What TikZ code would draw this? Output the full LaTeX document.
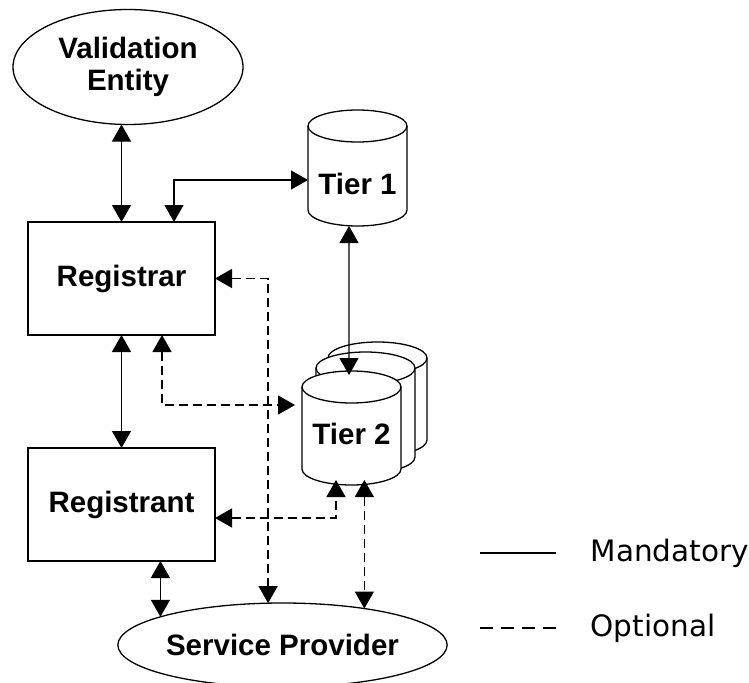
\documentclass[tikz,border=0pt]{standalone}
\usepackage{fontspec}
\setmainfont{Liberation Sans}
\newfontfamily\legendfont{DejaVu Sans}
\usetikzlibrary{shapes.geometric,arrows.meta}

% drum: name, centre, height, label, label shift
\newcommand\drum[5]{%
\node[db,minimum height=#3] (#1) at (#2) {};
\filldraw[fill=white] ([yshift=-16bp]#1.north west) arc[start angle=180,end angle=0,x radius=49.5bp,y radius=16bp]
  -- ([yshift=16bp]#1.south east) arc[start angle=0,end angle=-180,x radius=49.5bp,y radius=16bp] -- cycle;
\draw ([yshift=-16bp]#1.north west) arc[start angle=180,end angle=360,x radius=49.5bp,y radius=16bp];
\node[lbl] (#1txt) at ([yshift=#5]#1.center) {#4};}

\begin{document}
\begin{tikzpicture}[x=1bp,y=-1bp,line width=1.3bp,
  lbl/.style={font=\bfseries\fontsize{29.5bp}{32bp}\selectfont},
  box/.style={lbl,draw,rectangle,minimum width=187bp,minimum height=113bp,inner sep=0pt,outer sep=0pt},
  oval/.style={lbl,draw,ellipse,align=center,inner sep=0pt,outer sep=0pt},
  db/.style={rectangle,minimum width=99bp,inner sep=0pt,outer sep=0pt},
  tip/.tip={Triangle[length=17bp,width=19bp]},
  both/.style={tip-tip},
  opt/.style={both,dash pattern=on 9bp off 5bp},
  legend/.style={font=\legendfont\fontsize{29.5bp}{36bp}\selectfont,anchor=west,inner sep=0pt}]
\useasboundingbox (0,0) rectangle (749,683);
\node[oval,minimum width=230bp,minimum height=115bp] (ve) at (128,67) {Validation\\Entity};
\node[box] (reg) at (121.5,278.5) {Registrar};
\node[box] (rgt) at (121.5,504.5) {Registrant};
\drum{t1}{357.5,168}{116bp}{Tier 1}{-16bp}
\drum{t2c}{377.5,399}{114bp}{}{0bp}
\drum{t2b}{365.5,412.5}{121bp}{}{0bp}
\drum{t2}{351.5,428}{114bp}{Tier 2}{-6bp}
\node[oval,minimum width=321bp,minimum height=84bp] (sp) at (282.5,645) {Service Provider};
% mandatory
\draw[both] (reg.north |- ve.south) -- (reg.north);
\draw[both] ([yshift=-12bp]t1.west) -| ([xshift=52.5bp]reg.north);
\draw[both] ([xshift=-8.5bp]t1.south) -- ([xshift=-2.5bp,yshift=-4bp]t2.north);
\draw[both] (reg.south) -- (rgt.north);
\draw[both] (sp.167 |- rgt.south) -- (sp.167);
% optional
\draw[opt] ([xshift=40.5bp]reg.south) |- ([xshift=-7bp,yshift=23bp]t2.west);
\draw[opt] (reg.east) -| (sp.109);
\draw[opt] ([yshift=-13.5bp]rgt.east) -| ([xshift=-15.5bp,yshift=5bp]t2.south);
\draw[opt] (sp.24 |- t2.south) ++(0,-5) -- (sp.24);
% legend
\node[legend] (mand) at (590,553) {Mandatory};
\node[legend] (optl) at (590,628) {Optional};
\draw ([xshift=-34bp]mand.west) -- ++(-76,0);
\draw[dash pattern=on 13bp off 8bp] ([xshift=-34bp]optl.west) -- ++(-76,0);
\end{tikzpicture}
\end{document}
